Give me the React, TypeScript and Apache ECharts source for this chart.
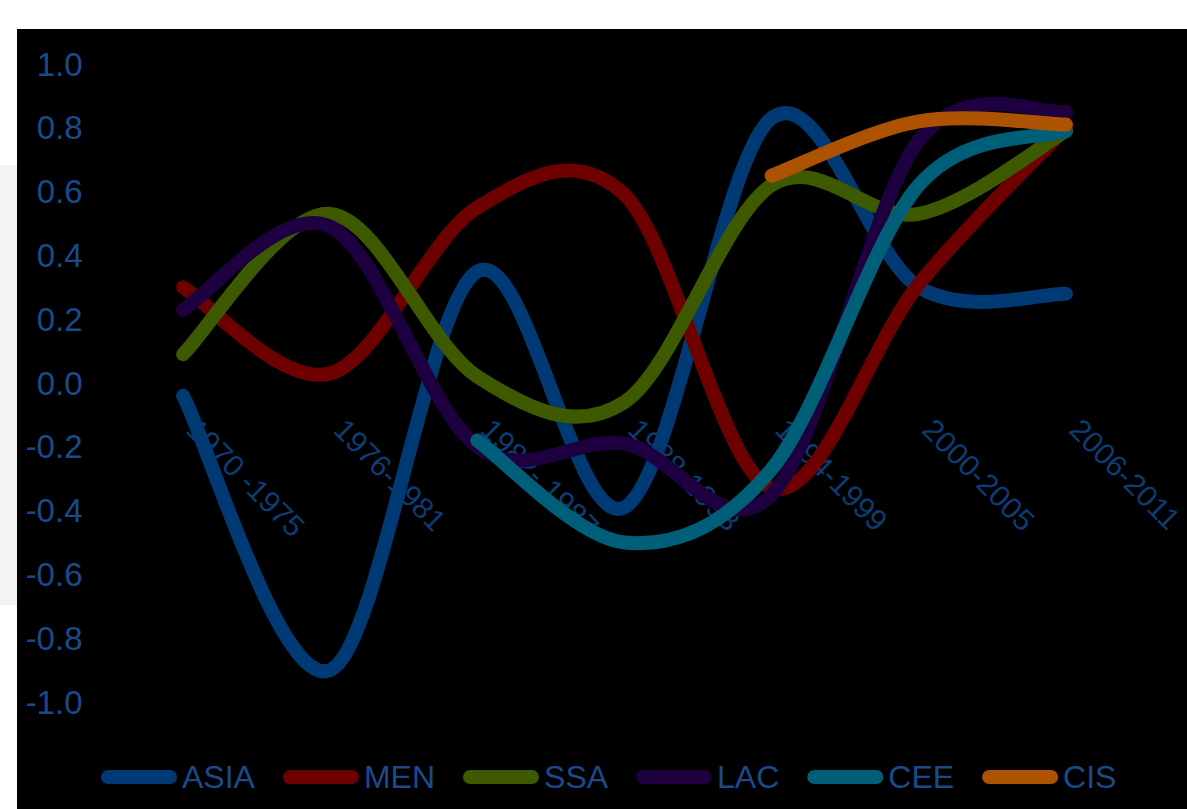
import React, { useEffect, useRef } from "react";
import * as echarts from "echarts";

const categories = ["1970 -1975", "1976-1981", "1982- 1987", "1988-1993", "1994-1999", "2000-2005", "2006-2011"];
const seriesNames = ["ASIA", "MEN", "SSA", "LAC", "CEE", "CIS"];
const seriesColors = ["#003a74", "#6e0000", "#3e5a00", "#1e0040", "#005f78", "#ad5200"];

const ASIA = [-0.04, -0.9, 0.35, -0.39, 0.83, 0.3, 0.28];
const MEN = [0.3, 0.03, 0.55, 0.59, -0.33, 0.31, 0.8];
const SSA = [0.09, 0.53, 0.02, -0.06, 0.62, 0.53, 0.79];
const LAC = [0.23, 0.49, -0.2, -0.19, -0.35, 0.76, 0.85];
const CEE = [null, null, -0.18, -0.5, -0.27, 0.62, 0.79];
const CIS = [null, null, null, null, 0.65, 0.82, 0.81];

const allValues: (number | null)[][] = [ASIA, MEN, SSA, LAC, CEE, CIS];

const yMin = -1;
const yMax = 1;
const yStep = 0.2;

const FONT = "'Liberation Sans', Arial, sans-serif";
const TEXT_BLUE = "#1a4a8b";
const LEGEND_ICON = "path://M7,0L69,0A7,7,0,0,1,69,14L7,14A7,7,0,0,1,7,0Z";

const GRID_TOP = 64;
const GRID_BOTTOM = 107;
const CHART_H = 809;
const GRID_H = CHART_H - GRID_TOP - GRID_BOTTOM;
// the category axis sits on the zero line of the value axis
const X_AXIS_OFFSET = -(GRID_H * (0 - yMin)) / (yMax - yMin);

function makeRenderItem(values: (number | null)[], color: string) {
  return (params: any, api: any) => {
    if (params.dataIndex !== 0) return null;
    const pts: number[][] = [];
    values.forEach((v, i) => {
      if (v !== null) pts.push(api.coord([i, v]));
    });
    if (pts.length < 2) return null;
    let d = `M${pts[0][0]},${pts[0][1]}`;
    for (let i = 0; i < pts.length - 1; i++) {
      const p0 = pts[Math.max(i - 1, 0)];
      const p1 = pts[i];
      const p2 = pts[i + 1];
      const p3 = pts[Math.min(i + 2, pts.length - 1)];
      const c1x = p1[0] + (p2[0] - p0[0]) / 6;
      const c1y = p1[1] + (p2[1] - p0[1]) / 6;
      const c2x = p2[0] - (p3[0] - p1[0]) / 6;
      const c2y = p2[1] - (p3[1] - p1[1]) / 6;
      d += ` C${c1x},${c1y} ${c2x},${c2y} ${p2[0]},${p2[1]}`;
    }
    return {
      type: "path",
      shape: { pathData: d },
      style: { fill: "none", stroke: color, lineWidth: 14, lineCap: "round", lineJoin: "round" },
    };
  };
}

export default function App() {
  const ref = useRef<HTMLDivElement>(null);
  useEffect(() => {
    if (!ref.current) return;
    const chart = echarts.init(ref.current, null, { renderer: "svg" });
    const series = allValues.map((vals, si) => ({
      name: seriesNames[si],
      type: "custom",
      coordinateSystem: "cartesian2d",
      itemStyle: { color: seriesColors[si] },
      encode: { x: 0, y: 1 },
      data: vals
        .map((v, i) => (v === null ? null : [i, v]))
        .filter((x) => x !== null),
      renderItem: makeRenderItem(vals, seriesColors[si]),
    }));
    chart.setOption({
      animation: false,
      backgroundColor: "#ffffff",
      graphic: {
        elements: [
          { type: "rect", z: -10, shape: { x: 17, y: 29, width: 1170, height: 780 }, style: { fill: "#000000" } },
          { type: "rect", z: -10, shape: { x: 0, y: 165, width: 17, height: 440 }, style: { fill: "#f3f3f3" } },
        ],
      },
      grid: {
        left: 109.5,
        right: 47.5,
        top: GRID_TOP,
        bottom: GRID_BOTTOM,
        containLabel: false,
        outerBoundsMode: "none",
      },
      xAxis: {
        type: "category",
        data: categories,
        boundaryGap: true,
        position: "bottom",
        offset: X_AXIS_OFFSET,
        axisLine: { show: false, onZero: false },
        axisTick: { show: false },
        splitLine: { show: false },
        axisLabel: {
          rotate: -45,
          margin: 32,
          padding: [0, 0, 0, 13],
          interval: 0,
          color: "#0d3c74",
          fontSize: 30,
          fontFamily: FONT,
        },
      },
      yAxis: {
        type: "value",
        min: yMin,
        max: yMax,
        interval: yStep,
        axisLine: { show: false },
        axisTick: { show: false },
        splitLine: { show: false },
        axisLabel: {
          margin: 27,
          color: TEXT_BLUE,
          fontSize: 33,
          fontFamily: FONT,
          formatter: (v: number) => (Math.abs(v) < 1e-9 ? "0.0" : v.toFixed(1)),
        },
      },
      legend: {
        left: 96,
        top: 756,
        itemWidth: 76,
        itemHeight: 14,
        itemGap: 28,
        data: seriesNames.map((n) => ({ name: n, icon: LEGEND_ICON })),
        textStyle: { color: TEXT_BLUE, fontSize: 32, fontFamily: FONT },
      },
      series,
    });
    return () => chart.dispose();
  }, []);
  return <div ref={ref} style={{ position: "fixed", left: 0, top: 0, width: 1187, height: 809 }} />;
}
